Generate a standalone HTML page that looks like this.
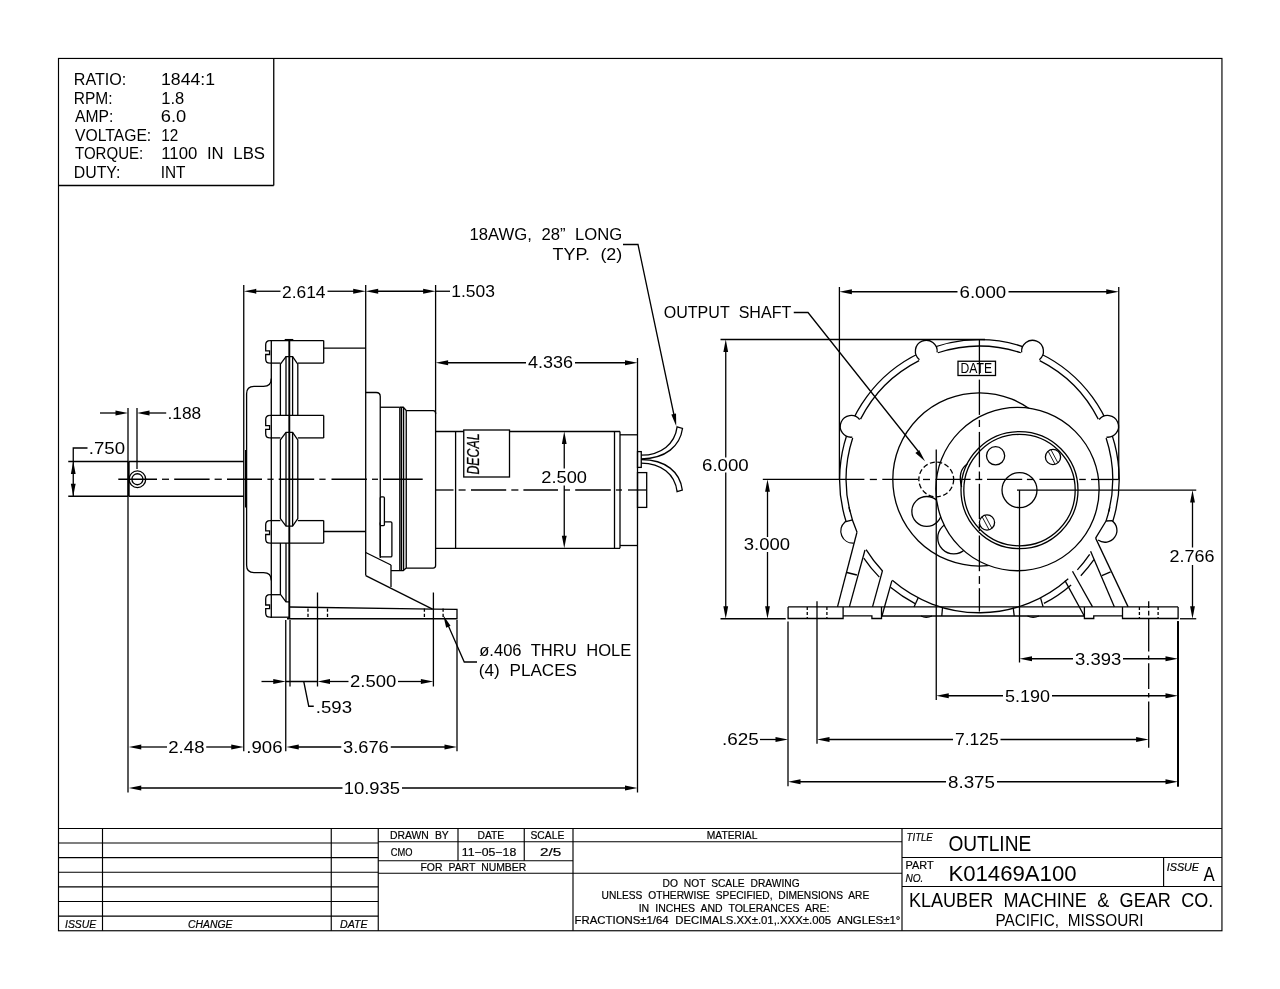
<!DOCTYPE html>
<html><head><meta charset="utf-8"><title>K01469A100 Outline</title>
<style>
html,body{margin:0;padding:0;background:#fff;}
svg{display:block;font-family:"Liberation Sans",sans-serif;will-change:transform;filter:grayscale(1);}
svg text{fill:#000;stroke:none;word-spacing:0.3em;}
svg text.t{stroke:none;}
svg text.b{stroke:#000;stroke-width:0.2px;}
</style></head><body>
<svg width="1280" height="989" viewBox="0 0 1280 989">
<rect x="0" y="0" width="1280" height="989" fill="#fff" style="stroke:none"/>
<g fill="none" stroke="#000" stroke-width="1.3" stroke-linecap="butt">
<rect x="58.5" y="58.45" width="1163.45" height="872.3" fill="none" stroke-width="1.15"/>
<line x1="273.75" y1="58.25" x2="273.75" y2="185.50"/>
<line x1="58.75" y1="185.50" x2="273.75" y2="185.50"/>
<text x="73.75" y="85.00" font-size="16.35" textLength="52.50" lengthAdjust="spacingAndGlyphs" class="t">RATIO:</text>
<text x="73.75" y="103.50" font-size="16.35" textLength="38.75" lengthAdjust="spacingAndGlyphs" class="t">RPM:</text>
<text x="75.00" y="122.00" font-size="16.35" textLength="38.25" lengthAdjust="spacingAndGlyphs" class="t">AMP:</text>
<text x="75.00" y="140.75" font-size="16.35" textLength="76.25" lengthAdjust="spacingAndGlyphs" class="t">VOLTAGE:</text>
<text x="75.00" y="159.25" font-size="16.35" textLength="68.25" lengthAdjust="spacingAndGlyphs" class="t">TORQUE:</text>
<text x="73.75" y="177.75" font-size="16.35" textLength="46.75" lengthAdjust="spacingAndGlyphs" class="t">DUTY:</text>
<text x="161.00" y="85.00" font-size="16.35" textLength="54.00" lengthAdjust="spacingAndGlyphs" class="t">1844:1</text>
<text x="161.25" y="103.50" font-size="16.35" textLength="23.00" lengthAdjust="spacingAndGlyphs" class="t">1.8</text>
<text x="160.75" y="122.00" font-size="16.35" textLength="25.50" lengthAdjust="spacingAndGlyphs" class="t">6.0</text>
<text x="161.25" y="140.75" font-size="16.35" textLength="17.00" lengthAdjust="spacingAndGlyphs" class="t">12</text>
<text x="161.25" y="159.25" font-size="16.35" textLength="103.75" lengthAdjust="spacingAndGlyphs" class="t">1100 IN LBS</text>
<text x="160.75" y="177.75" font-size="16.35" textLength="24.75" lengthAdjust="spacingAndGlyphs" class="t">INT</text>
<g stroke-width="1.15">
<line x1="58.75" y1="828.50" x2="1222.00" y2="828.50"/>
<line x1="58.75" y1="843.00" x2="378.25" y2="843.00"/>
<line x1="58.75" y1="857.60" x2="378.25" y2="857.60"/>
<line x1="58.75" y1="872.20" x2="378.25" y2="872.20"/>
<line x1="58.75" y1="886.90" x2="378.25" y2="886.90"/>
<line x1="58.75" y1="901.50" x2="378.25" y2="901.50"/>
<line x1="58.75" y1="916.10" x2="378.25" y2="916.10"/>
<line x1="102.50" y1="828.50" x2="102.50" y2="930.80"/>
<line x1="331.25" y1="828.50" x2="331.25" y2="930.80"/>
<line x1="378.25" y1="828.50" x2="378.25" y2="930.80"/>
<line x1="573.00" y1="828.50" x2="573.00" y2="930.80"/>
<line x1="902.00" y1="828.50" x2="902.00" y2="930.80"/>
<line x1="458.00" y1="828.50" x2="458.00" y2="860.75"/>
<line x1="524.25" y1="828.50" x2="524.25" y2="860.75"/>
<line x1="378.25" y1="841.75" x2="902.00" y2="841.75"/>
<line x1="378.25" y1="860.75" x2="573.00" y2="860.75"/>
<line x1="378.25" y1="873.25" x2="902.00" y2="873.25"/>
<line x1="902.00" y1="857.50" x2="1222.00" y2="857.50"/>
<line x1="902.00" y1="886.50" x2="1222.00" y2="886.50"/>
<line x1="1163.60" y1="857.50" x2="1163.60" y2="886.50"/>
</g>
<text x="65.00" y="927.50" font-size="11.05" textLength="31.25" lengthAdjust="spacingAndGlyphs" font-style="italic" class="b">ISSUE</text>
<text x="188.00" y="927.50" font-size="11.05" textLength="44.50" lengthAdjust="spacingAndGlyphs" font-style="italic" class="b">CHANGE</text>
<text x="340.00" y="927.50" font-size="11.05" textLength="27.50" lengthAdjust="spacingAndGlyphs" font-style="italic" class="b">DATE</text>
<text x="390.00" y="839.00" font-size="11.19" textLength="58.75" lengthAdjust="spacingAndGlyphs" class="b">DRAWN BY</text>
<text x="477.50" y="839.00" font-size="11.19" textLength="26.75" lengthAdjust="spacingAndGlyphs" class="b">DATE</text>
<text x="530.50" y="839.00" font-size="11.19" textLength="33.75" lengthAdjust="spacingAndGlyphs" class="b">SCALE</text>
<text x="390.75" y="855.50" font-size="10.90" textLength="21.75" lengthAdjust="spacingAndGlyphs" class="b">CMO</text>
<text x="461.75" y="855.50" font-size="10.90" textLength="54.50" lengthAdjust="spacingAndGlyphs" class="b">11−05−18</text>
<text x="540.00" y="855.50" font-size="10.90" textLength="21.25" lengthAdjust="spacingAndGlyphs" class="b">2/5</text>
<text x="420.50" y="870.80" font-size="10.90" textLength="105.75" lengthAdjust="spacingAndGlyphs" class="b">FOR PART NUMBER</text>
<text x="706.80" y="839.00" font-size="11.19" textLength="50.60" lengthAdjust="spacingAndGlyphs" class="b">MATERIAL</text>
<text x="662.60" y="886.50" font-size="11.19" textLength="137.00" lengthAdjust="spacingAndGlyphs" class="b">DO NOT SCALE DRAWING</text>
<text x="601.60" y="899.40" font-size="11.19" textLength="267.70" lengthAdjust="spacingAndGlyphs" class="b">UNLESS OTHERWISE SPECIFIED, DIMENSIONS ARE</text>
<text x="638.70" y="911.90" font-size="11.19" textLength="190.70" lengthAdjust="spacingAndGlyphs" class="b">IN INCHES AND TOLERANCES ARE:</text>
<text x="574.60" y="924.00" font-size="11.19" textLength="325.70" lengthAdjust="spacingAndGlyphs" class="b">FRACTIONS±1/64 DECIMALS.XX±.01,.XXX±.005 ANGLES±1°</text>
<text x="906.60" y="840.80" font-size="11.19" textLength="26.20" lengthAdjust="spacingAndGlyphs" font-style="italic" class="b">TITLE</text>
<text x="948.40" y="851.00" font-size="21.37" textLength="82.85" lengthAdjust="spacingAndGlyphs" class="t">OUTLINE</text>
<text x="905.50" y="869.40" font-size="11.19" textLength="28.10" lengthAdjust="spacingAndGlyphs" class="b">PART</text>
<text x="905.50" y="881.50" font-size="11.19" textLength="17.90" lengthAdjust="spacingAndGlyphs" font-style="italic" class="b">NO.</text>
<text x="948.40" y="881.00" font-size="21.37" textLength="128.20" lengthAdjust="spacingAndGlyphs" class="t">K01469A100</text>
<text x="1166.80" y="871.00" font-size="11.19" textLength="32.20" lengthAdjust="spacingAndGlyphs" font-style="italic" class="b">ISSUE</text>
<text x="1203.50" y="880.70" font-size="20.93" textLength="11.20" lengthAdjust="spacingAndGlyphs" class="t">A</text>
<text x="909.00" y="906.60" font-size="20.78" textLength="304.20" lengthAdjust="spacingAndGlyphs" class="t">KLAUBER MACHINE &amp; GEAR CO.</text>
<text x="995.40" y="925.90" font-size="16.13" textLength="148.20" lengthAdjust="spacingAndGlyphs" class="t">PACIFIC, MISSOURI</text>
<line x1="128.00" y1="408.00" x2="128.00" y2="792.50"/>
<line x1="137.00" y1="408.00" x2="137.00" y2="469.00"/>
<line x1="243.75" y1="285.00" x2="243.75" y2="751.25"/>
<line x1="365.70" y1="285.00" x2="365.70" y2="575.60"/>
<line x1="435.60" y1="285.00" x2="435.60" y2="414.00"/>
<line x1="637.50" y1="358.00" x2="637.50" y2="792.50"/>
<line x1="100.00" y1="413.00" x2="116.00" y2="413.00"/>
<polygon points="128.00,413.00 115.50,415.40 115.50,410.60" fill="#000" stroke="none"/>
<polygon points="137.00,413.00 149.50,410.60 149.50,415.40" fill="#000" stroke="none"/>
<line x1="149.00" y1="413.00" x2="166.20" y2="413.00"/>
<text x="167.50" y="419.00" font-size="16.35" textLength="33.75" lengthAdjust="spacingAndGlyphs" class="t">.188</text>
<text x="88.75" y="453.75" font-size="16.35" textLength="36.25" lengthAdjust="spacingAndGlyphs" class="t">.750</text>
<path d="M87.5,448 L73.25,448 L73.25,496.25" fill="none"/>
<line x1="68.25" y1="461.50" x2="128.00" y2="461.50"/>
<line x1="68.25" y1="496.25" x2="128.00" y2="496.25"/>
<polygon points="73.25,461.50 75.65,474.00 70.85,474.00" fill="#000" stroke="none"/>
<polygon points="73.25,496.25 70.85,483.75 75.65,483.75" fill="#000" stroke="none"/>
<line x1="128.75" y1="461.50" x2="243.75" y2="461.50"/>
<line x1="128.75" y1="496.25" x2="243.75" y2="496.25"/>
<line x1="128.60" y1="461.50" x2="128.60" y2="496.25" stroke-width="2.2"/>
<circle cx="137.40" cy="479.25" r="8.30" fill="none"/>
<circle cx="137.40" cy="479.25" r="5.50" fill="none"/>
<line x1="118.30" y1="479.25" x2="157.00" y2="479.25"/>
<line x1="162.00" y1="479.25" x2="169.00" y2="479.25"/>
<line x1="174.20" y1="479.25" x2="209.60" y2="479.25"/>
<line x1="214.60" y1="479.25" x2="221.80" y2="479.25"/>
<line x1="227.00" y1="479.25" x2="262.00" y2="479.25"/>
<line x1="267.40" y1="479.25" x2="273.60" y2="479.25"/>
<line x1="278.70" y1="479.25" x2="314.20" y2="479.25"/>
<line x1="319.30" y1="479.25" x2="325.60" y2="479.25"/>
<line x1="331.50" y1="479.25" x2="366.90" y2="479.25"/>
<line x1="372.00" y1="479.25" x2="378.00" y2="479.25"/>
<line x1="383.00" y1="479.25" x2="422.70" y2="479.25"/>
<polygon points="243.75,291.25 256.25,288.85 256.25,293.65" fill="#000" stroke="none"/>
<line x1="255.00" y1="291.25" x2="280.50" y2="291.25"/>
<text x="282.00" y="297.50" font-size="17.01" textLength="43.50" lengthAdjust="spacingAndGlyphs" class="t">2.614</text>
<line x1="327.50" y1="291.25" x2="354.00" y2="291.25"/>
<polygon points="365.70,291.25 353.20,293.65 353.20,288.85" fill="#000" stroke="none"/>
<polygon points="365.70,291.25 378.20,288.85 378.20,293.65" fill="#000" stroke="none"/>
<line x1="377.00" y1="291.25" x2="424.00" y2="291.25"/>
<polygon points="435.60,291.25 423.10,293.65 423.10,288.85" fill="#000" stroke="none"/>
<line x1="435.60" y1="291.25" x2="450.00" y2="291.25"/>
<text x="451.25" y="297.00" font-size="16.35" textLength="43.75" lengthAdjust="spacingAndGlyphs" class="t">1.503</text>
<polygon points="435.60,362.75 448.10,360.35 448.10,365.15" fill="#000" stroke="none"/>
<line x1="447.00" y1="362.75" x2="526.00" y2="362.75"/>
<text x="528.00" y="368.30" font-size="16.35" textLength="45.00" lengthAdjust="spacingAndGlyphs" class="t">4.336</text>
<line x1="575.00" y1="362.75" x2="626.00" y2="362.75"/>
<polygon points="637.50,362.75 625.00,365.15 625.00,360.35" fill="#000" stroke="none"/>
<path d="M271.3,378.5 Q271.3,386.3 263.5,386.3 L254,386.3 Q246.6,386.3 246.6,393.7 L246.6,565.2 Q246.6,572.6 254,572.6 L263.5,572.6 Q271.3,572.6 271.3,580.4" fill="none"/>
<line x1="271.30" y1="340.60" x2="271.30" y2="617.90"/>
<line x1="245.60" y1="450.00" x2="245.60" y2="507.50"/>
<path d="M269.9,340.6 Q265.7,340.6 265.7,344.8 L265.7,350.90000000000003 L269.6,350.90000000000003 L269.6,354.5 L265.7,354.5 L265.7,358.90000000000003 Q265.7,363.1 269.9,363.1" fill="none"/>
<line x1="269.90" y1="340.60" x2="323.70" y2="340.60"/>
<line x1="269.90" y1="363.10" x2="280.40" y2="363.10"/>
<line x1="297.80" y1="363.10" x2="323.70" y2="363.10"/>
<line x1="323.70" y1="340.60" x2="323.70" y2="363.10"/>
<path d="M269.9,415.4 Q265.7,415.4 265.7,419.59999999999997 L265.7,425.7 L269.6,425.7 L269.6,429.29999999999995 L265.7,429.29999999999995 L265.7,433.7 Q265.7,437.9 269.9,437.9" fill="none"/>
<line x1="269.90" y1="415.40" x2="323.70" y2="415.40"/>
<line x1="269.90" y1="437.90" x2="280.40" y2="437.90"/>
<line x1="297.80" y1="437.90" x2="323.70" y2="437.90"/>
<line x1="323.70" y1="415.40" x2="323.70" y2="437.90"/>
<path d="M269.9,520.6 Q265.7,520.6 265.7,524.8000000000001 L265.7,530.9 L269.6,530.9 L269.6,534.5 L265.7,534.5 L265.7,538.9 Q265.7,543.1 269.9,543.1" fill="none"/>
<line x1="269.90" y1="520.60" x2="280.40" y2="520.60"/>
<line x1="297.80" y1="520.60" x2="323.70" y2="520.60"/>
<line x1="269.90" y1="543.10" x2="323.70" y2="543.10"/>
<line x1="323.70" y1="520.60" x2="323.70" y2="543.10"/>
<path d="M269.9,594.7 Q265.7,594.7 265.7,598.9000000000001 L265.7,605.0 L269.6,605.0 L269.6,608.6 L265.7,608.6 L265.7,613.0 Q265.7,617.2 269.9,617.2" fill="none"/>
<line x1="269.90" y1="594.70" x2="280.40" y2="594.70"/>
<line x1="269.90" y1="617.20" x2="289.20" y2="617.20"/>
<line x1="289.30" y1="339.60" x2="289.30" y2="618.70" stroke-width="1.9"/>
<line x1="284.70" y1="339.60" x2="293.30" y2="339.60"/>
<path d="M280.4,415.4 L280.4,364.1 L286.0,356.6 L292.6,356.6 L297.8,364.1 L297.8,415.4" fill="none"/>
<line x1="286.00" y1="356.60" x2="286.00" y2="415.40"/>
<line x1="292.60" y1="356.60" x2="292.60" y2="415.40"/>
<path d="M280.4,439.9 L286.0,432.4 L292.6,432.4 L297.8,439.9 L297.8,518.6 L292.6,526.1 L286.0,526.1 L280.4,518.6 Z" fill="none"/>
<line x1="286.00" y1="432.40" x2="286.00" y2="526.10"/>
<line x1="292.60" y1="432.40" x2="292.60" y2="526.10"/>
<path d="M280.4,543.1 L280.4,594.4 L286.0,601.9 L289.2,601.9" fill="none"/>
<line x1="286.00" y1="543.10" x2="286.00" y2="601.90"/>
<line x1="323.70" y1="348.20" x2="365.70" y2="348.20"/>
<line x1="323.70" y1="531.50" x2="365.70" y2="531.50"/>
<path d="M365.7,392.5 L376.2,392.5 Q380.25,392.5 380.25,396.5 L380.25,558" fill="none"/>
<line x1="380.25" y1="407.25" x2="399.75" y2="407.25"/>
<line x1="399.90" y1="407.25" x2="399.90" y2="570.60" stroke-width="1.5"/>
<line x1="401.60" y1="407.25" x2="401.60" y2="570.60" stroke-width="1.2"/>
<path d="M399.9,407.25 L403.3,407.25 L406.25,410.6 L406.25,568 L403.3,570.6 L391,570.6" fill="none"/>
<line x1="403.60" y1="408.00" x2="403.60" y2="570.00"/>
<path d="M406.25,410.6 L433.1,410.6 Q435.6,410.6 435.6,413.1 L435.6,565.6 Q435.6,568.1 433.1,568.1 L406.25,568.1" fill="none"/>
<line x1="435.60" y1="431.50" x2="620.00" y2="431.50"/>
<line x1="435.60" y1="548.30" x2="620.00" y2="548.30"/>
<line x1="455.60" y1="431.50" x2="455.60" y2="548.30"/>
<line x1="614.50" y1="431.50" x2="614.50" y2="548.30"/>
<line x1="620.00" y1="431.50" x2="620.00" y2="548.30"/>
<line x1="620.00" y1="434.80" x2="637.50" y2="434.80"/>
<line x1="620.00" y1="545.50" x2="637.50" y2="545.50"/>
<rect x="463.75" y="430.00" width="45.75" height="47.00" fill="#fff" rx="0"/>
<text transform="translate(478.9,474.6) rotate(-90)" font-size="16.4" font-style="italic" style="stroke:#000;stroke-width:0.3px" textLength="41.2" lengthAdjust="spacingAndGlyphs">DECAL</text>
<polygon points="564.25,431.50 566.65,444.00 561.85,444.00" fill="#000" stroke="none"/>
<polygon points="564.25,548.30 561.85,535.80 566.65,535.80" fill="#000" stroke="none"/>
<line x1="564.25" y1="443.00" x2="564.25" y2="468.50"/>
<line x1="564.25" y1="485.50" x2="564.25" y2="537.00"/>
<text x="541.25" y="482.50" font-size="16.35" textLength="45.75" lengthAdjust="spacingAndGlyphs" class="t">2.500</text>
<line x1="435.60" y1="490.00" x2="453.50" y2="490.00"/>
<line x1="458.60" y1="490.00" x2="465.60" y2="490.00"/>
<line x1="471.00" y1="490.00" x2="506.20" y2="490.00"/>
<line x1="511.30" y1="490.00" x2="518.40" y2="490.00"/>
<line x1="523.40" y1="490.00" x2="558.00" y2="490.00"/>
<line x1="564.00" y1="490.00" x2="570.00" y2="490.00"/>
<line x1="575.20" y1="490.00" x2="610.80" y2="490.00"/>
<line x1="615.90" y1="490.00" x2="622.00" y2="490.00"/>
<line x1="628.00" y1="490.00" x2="646.50" y2="490.00"/>
<rect x="637.50" y="451.60" width="3.75" height="15.80" fill="none" rx="0"/>
<rect x="637.50" y="472.60" width="9.20" height="34.80" fill="none" rx="0"/>
<path d="M641.25,455.2 C661,455 675,444 677.1,426.9 L682.5,428.5 C680,446 666,458.5 641.25,458.9" fill="none"/>
<path d="M641.25,463.1 C661,463.3 675,474 677.1,491.6 L682.3,490 C680,472 666,459.8 641.25,459.5" fill="none"/>
<rect x="380.25" y="521.90" width="11.65" height="35.00" fill="none" rx="1.2"/>
<rect x="380.25" y="496.90" width="4.15" height="28.70" fill="#fff" rx="1.2"/>
<line x1="365.70" y1="552.50" x2="391.00" y2="565.00"/>
<line x1="391.00" y1="565.00" x2="391.00" y2="586.90"/>
<line x1="365.70" y1="575.60" x2="432.50" y2="609.10"/>
<path d="M289.2,607.0 L433.1,609.1 L457,609.4 L457,618.75 L287,618.75" fill="none"/>
<line x1="308.00" y1="608.50" x2="308.00" y2="618.00" stroke-dasharray="3.2 2"/>
<line x1="327.50" y1="608.50" x2="327.50" y2="618.00" stroke-dasharray="3.2 2"/>
<line x1="424.40" y1="608.50" x2="424.40" y2="618.00" stroke-dasharray="3.2 2"/>
<line x1="443.10" y1="608.50" x2="443.10" y2="618.00" stroke-dasharray="3.2 2"/>
<line x1="317.50" y1="592.50" x2="317.50" y2="686.50"/>
<line x1="433.40" y1="592.50" x2="433.40" y2="686.50"/>
<line x1="285.75" y1="620.00" x2="285.75" y2="751.25"/>
<line x1="290.00" y1="620.00" x2="290.00" y2="686.50"/>
<line x1="457.00" y1="620.00" x2="457.00" y2="751.25"/>
<line x1="261.50" y1="681.50" x2="274.00" y2="681.50"/>
<polygon points="285.75,681.50 273.25,683.90 273.25,679.10" fill="#000" stroke="none"/>
<line x1="285.75" y1="681.50" x2="317.50" y2="681.50"/>
<polygon points="317.50,681.50 330.00,679.10 330.00,683.90" fill="#000" stroke="none"/>
<line x1="329.00" y1="681.50" x2="348.50" y2="681.50"/>
<text x="350.00" y="687.20" font-size="16.35" textLength="46.25" lengthAdjust="spacingAndGlyphs" class="t">2.500</text>
<line x1="398.00" y1="681.50" x2="422.00" y2="681.50"/>
<polygon points="433.40,681.50 420.90,683.90 420.90,679.10" fill="#000" stroke="none"/>
<path d="M303.75,681.5 L308.75,706.25 L313.75,706.25" fill="none"/>
<text x="315.75" y="712.50" font-size="16.35" textLength="36.25" lengthAdjust="spacingAndGlyphs" class="t">.593</text>
<polygon points="128.75,747.00 141.25,744.60 141.25,749.40" fill="#000" stroke="none"/>
<line x1="140.00" y1="747.00" x2="167.00" y2="747.00"/>
<text x="168.25" y="752.80" font-size="16.35" textLength="36.25" lengthAdjust="spacingAndGlyphs" class="t">2.48</text>
<line x1="206.25" y1="747.00" x2="232.00" y2="747.00"/>
<polygon points="243.75,747.00 231.25,749.40 231.25,744.60" fill="#000" stroke="none"/>
<text x="246.25" y="752.80" font-size="16.35" textLength="36.25" lengthAdjust="spacingAndGlyphs" class="t">.906</text>
<polygon points="286.25,747.00 298.75,744.60 298.75,749.40" fill="#000" stroke="none"/>
<line x1="297.00" y1="747.00" x2="341.25" y2="747.00"/>
<text x="343.00" y="752.80" font-size="16.35" textLength="45.75" lengthAdjust="spacingAndGlyphs" class="t">3.676</text>
<line x1="390.75" y1="747.00" x2="445.00" y2="747.00"/>
<polygon points="457.00,747.00 444.50,749.40 444.50,744.60" fill="#000" stroke="none"/>
<polygon points="128.75,788.00 141.25,785.60 141.25,790.40" fill="#000" stroke="none"/>
<line x1="140.00" y1="788.00" x2="342.50" y2="788.00"/>
<text x="343.75" y="793.80" font-size="16.35" textLength="56.25" lengthAdjust="spacingAndGlyphs" class="t">10.935</text>
<line x1="402.00" y1="788.00" x2="626.00" y2="788.00"/>
<polygon points="637.50,788.00 625.00,790.40 625.00,785.60" fill="#000" stroke="none"/>
<polygon points="443.30,615.30 450.54,625.77 446.15,627.71" fill="#000" stroke="none"/>
<path d="M448,625 L464.25,662 L477,662" fill="none"/>
<text x="479.25" y="655.50" font-size="16.35" textLength="152.00" lengthAdjust="spacingAndGlyphs" class="t">ø.406 THRU HOLE</text>
<text x="478.75" y="675.50" font-size="16.35" textLength="98.25" lengthAdjust="spacingAndGlyphs" class="t">(4) PLACES</text>
<text x="469.50" y="239.50" font-size="16.35" textLength="152.80" lengthAdjust="spacingAndGlyphs" class="t">18AWG, 28” LONG</text>
<text x="552.50" y="260.00" font-size="16.35" textLength="69.80" lengthAdjust="spacingAndGlyphs" class="t">TYP. (2)</text>
<path d="M623,244.5 L638,244.5 L674,415" fill="none"/>
<polygon points="676.25,426.25 671.33,414.51 676.02,413.52" fill="#000" stroke="none"/>
<text x="663.75" y="318.00" font-size="16.35" textLength="127.50" lengthAdjust="spacingAndGlyphs" class="t">OUTPUT SHAFT</text>
<path d="M793.75,312.5 L808,312.5 L918,451" fill="none"/>
<polygon points="925.00,461.25 915.39,452.91 919.16,449.94" fill="#000" stroke="none"/>
<line x1="839.40" y1="287.00" x2="839.40" y2="479.25"/>
<line x1="1118.75" y1="287.00" x2="1118.75" y2="479.25"/>
<polygon points="839.40,291.75 851.90,289.35 851.90,294.15" fill="#000" stroke="none"/>
<line x1="851.00" y1="291.75" x2="957.50" y2="291.75"/>
<text x="959.50" y="297.50" font-size="16.35" textLength="46.75" lengthAdjust="spacingAndGlyphs" class="t">6.000</text>
<line x1="1008.50" y1="291.75" x2="1107.00" y2="291.75"/>
<polygon points="1118.75,291.75 1106.25,294.15 1106.25,289.35" fill="#000" stroke="none"/>
<line x1="720.50" y1="339.50" x2="985.00" y2="339.50"/>
<line x1="720.50" y1="618.75" x2="785.75" y2="618.75"/>
<polygon points="725.75,339.50 728.15,352.00 723.35,352.00" fill="#000" stroke="none"/>
<polygon points="725.75,618.75 723.35,606.25 728.15,606.25" fill="#000" stroke="none"/>
<line x1="725.75" y1="351.00" x2="725.75" y2="457.50"/>
<line x1="725.75" y1="472.50" x2="725.75" y2="607.00"/>
<text x="702.00" y="470.75" font-size="16.35" textLength="46.75" lengthAdjust="spacingAndGlyphs" class="t">6.000</text>
<polygon points="767.50,479.25 769.90,491.75 765.10,491.75" fill="#000" stroke="none"/>
<polygon points="767.50,618.75 765.10,606.25 769.90,606.25" fill="#000" stroke="none"/>
<line x1="767.50" y1="491.00" x2="767.50" y2="537.00"/>
<line x1="767.50" y1="552.00" x2="767.50" y2="607.00"/>
<text x="743.75" y="550.00" font-size="16.35" textLength="46.25" lengthAdjust="spacingAndGlyphs" class="t">3.000</text>
<path d="M1112.51,522.19 A139.80,139.80 0 1 0 846.14,521.72" fill="none"/>
<path d="M1108.74,511.70 A133.30,133.30 0 0 0 1106.10,438.04" fill="none"/>
<path d="M1098.28,419.14 A133.30,133.30 0 0 0 1039.71,360.57" fill="none"/>
<path d="M1020.81,352.75 A133.30,133.30 0 0 0 937.99,352.75" fill="none"/>
<path d="M919.09,360.57 A133.30,133.30 0 0 0 860.52,419.14" fill="none"/>
<path d="M852.70,438.04 A133.30,133.30 0 0 0 850.06,511.70" fill="none"/>
<path d="M866.11,549.69 A133.30,133.30 0 0 0 882.55,571.04" fill="none"/>
<path d="M863.77,558.03 A139.80,139.80 0 0 0 879.35,577.09" fill="none"/>
<path d="M892.30,580.36 A133.30,133.30 0 0 0 1068.25,578.82" fill="none"/>
<path d="M890.48,587.32 A139.80,139.80 0 0 0 915.06,603.57" fill="none"/>
<path d="M1043.95,603.45 A139.80,139.80 0 0 0 1071.12,584.96" fill="none"/>
<path d="M1077.36,569.85 A133.30,133.30 0 0 0 1089.65,554.38" fill="none"/>
<path d="M1080.81,575.68 A139.80,139.80 0 0 0 1093.92,559.64" fill="none"/>
<line x1="918.10" y1="598.10" x2="914.00" y2="606.90"/>
<line x1="1040.60" y1="598.10" x2="1043.10" y2="606.90"/>
<path d="M1099.13,419.51 A10.90,10.90 0 1 1 1106.45,437.17" fill="#fff"/>
<path d="M1021.68,352.40 A10.90,10.90 0 1 1 1039.34,359.72" fill="#fff"/>
<path d="M919.46,359.72 A10.90,10.90 0 1 1 937.12,352.40" fill="#fff"/>
<path d="M852.35,437.17 A10.90,10.90 0 1 1 859.67,419.51" fill="#fff"/>
<path d="M852.6,519.8 L845,521.9 A12.1,12.1 0 0 0 853.75,543.1 L856.9,532.5 Z" fill="#fff" stroke="none"/>
<path d="M852.6,519.8 L845,521.9 A12.1,12.1 0 0 0 853.75,543.1" fill="none"/>
<path d="M849.01,507.16 A133.30,133.30 0 0 0 857.16,532.60" fill="none"/>
<path d="M1106.2,521 L1111.9,520.6 A11.9,11.9 0 1 1 1098.1,540 L1095.6,538.1 Z" fill="#fff" stroke="none"/>
<path d="M1106.2,521 L1111.9,520.6 A11.9,11.9 0 1 1 1098.1,540" fill="none"/>
<path d="M1109.79,507.16 A133.30,133.30 0 0 1 1106.03,521.08 L1095.6,538.1" fill="none"/>
<circle cx="979.40" cy="479.45" r="86.60" fill="none"/>
<circle cx="926.75" cy="511.40" r="14.90" fill="none"/>
<circle cx="953.75" cy="537.90" r="16.00" fill="none"/>
<circle cx="1017.50" cy="489.10" r="81.65" fill="#fff"/>
<circle cx="1019.50" cy="490.10" r="58.50" fill="none"/>
<circle cx="1019.50" cy="490.10" r="55.70" fill="none"/>
<circle cx="1019.50" cy="490.10" r="17.50" fill="none"/>
<circle cx="995.60" cy="455.80" r="9.10" fill="none"/>
<circle cx="1053.00" cy="457.00" r="7.60" fill="none"/>
<line x1="1050.92" y1="449.69" x2="1057.90" y2="462.81" stroke-width="0.9"/>
<line x1="1048.10" y1="451.19" x2="1055.08" y2="464.31" stroke-width="0.9"/>
<circle cx="987.00" cy="522.50" r="7.60" fill="none"/>
<line x1="984.92" y1="515.19" x2="991.90" y2="528.31" stroke-width="0.9"/>
<line x1="982.10" y1="516.69" x2="989.08" y2="529.81" stroke-width="0.9"/>
<path d="M967.5,463.75 Q957.2,470.6 961.6,487" fill="none"/>
<circle cx="936.25" cy="479.45" r="17.40" fill="none" stroke-dasharray="5 2.5"/>
<rect x="958.00" y="361.25" width="37.50" height="14.25" fill="#fff" rx="0"/>
<text x="960.50" y="373.20" font-size="14.24" textLength="31.50" lengthAdjust="spacingAndGlyphs" class="t">DATE</text>
<line x1="762.80" y1="479.45" x2="864.40" y2="479.45"/>
<line x1="869.80" y1="479.45" x2="876.90" y2="479.45"/>
<line x1="882.30" y1="479.45" x2="918.30" y2="479.45"/>
<line x1="923.00" y1="479.45" x2="930.00" y2="479.45"/>
<line x1="935.50" y1="479.45" x2="970.60" y2="479.45"/>
<line x1="975.30" y1="479.45" x2="982.30" y2="479.45"/>
<line x1="987.00" y1="479.45" x2="1022.20" y2="479.45"/>
<line x1="1026.90" y1="479.45" x2="1033.50" y2="479.45"/>
<line x1="1039.40" y1="479.45" x2="1074.50" y2="479.45"/>
<line x1="1079.20" y1="479.45" x2="1085.80" y2="479.45"/>
<line x1="1091.00" y1="479.45" x2="1118.90" y2="479.45"/>
<line x1="979.40" y1="339.20" x2="979.40" y2="374.60"/>
<line x1="979.40" y1="379.60" x2="979.40" y2="414.90"/>
<line x1="979.40" y1="419.90" x2="979.40" y2="427.00"/>
<line x1="979.40" y1="431.90" x2="979.40" y2="467.20"/>
<line x1="979.40" y1="471.50" x2="979.40" y2="479.50"/>
<line x1="979.40" y1="483.80" x2="979.40" y2="519.00"/>
<line x1="979.40" y1="524.00" x2="979.40" y2="531.00"/>
<line x1="979.40" y1="535.50" x2="979.40" y2="571.20"/>
<line x1="979.40" y1="576.10" x2="979.40" y2="583.90"/>
<line x1="979.40" y1="588.20" x2="979.40" y2="611.60"/>
<line x1="856.90" y1="532.50" x2="837.50" y2="606.90"/>
<line x1="865.00" y1="550.00" x2="849.40" y2="606.90"/>
<line x1="882.50" y1="570.60" x2="872.50" y2="606.90"/>
<line x1="891.90" y1="580.60" x2="881.90" y2="616.25"/>
<line x1="1095.60" y1="538.10" x2="1128.10" y2="606.90"/>
<line x1="1090.60" y1="551.25" x2="1114.40" y2="606.90"/>
<line x1="1072.50" y1="571.25" x2="1092.50" y2="606.90"/>
<line x1="1065.00" y1="580.60" x2="1084.40" y2="616.25"/>
<line x1="846.90" y1="572.50" x2="856.90" y2="575.00"/>
<line x1="1101.90" y1="575.60" x2="1110.60" y2="571.90"/>
<line x1="788.10" y1="606.90" x2="1178.10" y2="606.90"/>
<path d="M788.1,606.9 L788.1,618.5 L843.1,618.5 L843.1,606.9" fill="none"/>
<path d="M843.1,615.8 L871.9,615.8 L871.9,618.5 L881.5,618.5 L881.5,606.9" fill="none"/>
<line x1="881.50" y1="616.00" x2="1084.40" y2="616.00"/>
<path d="M1084.4,606.9 L1084.4,618.5 L1093.75,618.5 L1093.75,615.8 L1122.5,615.8" fill="none"/>
<path d="M1122.5,606.9 L1122.5,618.5 L1178.1,618.5 L1178.1,606.9" fill="none"/>
<line x1="807.25" y1="606.90" x2="807.25" y2="618.50" stroke-dasharray="3 2"/>
<line x1="826.90" y1="606.90" x2="826.90" y2="618.50" stroke-dasharray="3 2"/>
<line x1="1139.40" y1="606.90" x2="1139.40" y2="618.50" stroke-dasharray="3 2"/>
<line x1="1158.10" y1="606.90" x2="1158.10" y2="618.50" stroke-dasharray="3 2"/>
<line x1="942.50" y1="607.50" x2="941.80" y2="616.00"/>
<line x1="1013.20" y1="607.50" x2="1014.20" y2="616.00"/>
<path d="M921,616 Q926,618.6 932,616" fill="none"/>
<path d="M1027.5,616 Q1033,618.6 1039,616" fill="none"/>
<line x1="788.00" y1="621.50" x2="788.00" y2="786.25"/>
<line x1="817.00" y1="601.25" x2="817.00" y2="743.75"/>
<line x1="936.25" y1="449.40" x2="936.25" y2="700.00"/>
<line x1="1019.50" y1="490.10" x2="1019.50" y2="662.50"/>
<line x1="1148.70" y1="601.30" x2="1148.70" y2="608.00"/>
<line x1="1178.00" y1="621.50" x2="1178.00" y2="786.25"/>
<line x1="1148.70" y1="610.70" x2="1148.70" y2="615.40"/>
<line x1="1178.00" y1="621.50" x2="1178.00" y2="786.25"/>
<line x1="1148.70" y1="618.50" x2="1148.70" y2="651.40"/>
<line x1="1178.00" y1="621.50" x2="1178.00" y2="786.25"/>
<line x1="1148.70" y1="655.50" x2="1148.70" y2="659.50"/>
<line x1="1178.00" y1="621.50" x2="1178.00" y2="786.25"/>
<line x1="1148.70" y1="663.20" x2="1148.70" y2="689.00"/>
<line x1="1178.00" y1="621.50" x2="1178.00" y2="786.25"/>
<line x1="1148.70" y1="693.00" x2="1148.70" y2="697.50"/>
<line x1="1178.00" y1="621.50" x2="1178.00" y2="786.25"/>
<line x1="1148.70" y1="701.60" x2="1148.70" y2="747.80"/>
<line x1="1178.00" y1="621.50" x2="1178.00" y2="786.25"/>
<line x1="1017.00" y1="490.10" x2="1196.25" y2="490.10"/>
<line x1="1180.00" y1="618.75" x2="1196.25" y2="618.75"/>
<polygon points="1192.50,490.10 1194.90,502.60 1190.10,502.60" fill="#000" stroke="none"/>
<polygon points="1192.50,618.75 1190.10,606.25 1194.90,606.25" fill="#000" stroke="none"/>
<line x1="1192.50" y1="501.00" x2="1192.50" y2="547.50"/>
<line x1="1192.50" y1="565.00" x2="1192.50" y2="607.00"/>
<text x="1169.50" y="562.00" font-size="16.35" textLength="45.00" lengthAdjust="spacingAndGlyphs" class="t">2.766</text>
<polygon points="1019.50,658.75 1032.00,656.35 1032.00,661.15" fill="#000" stroke="none"/>
<line x1="1031.00" y1="658.75" x2="1073.00" y2="658.75"/>
<text x="1075.00" y="664.50" font-size="16.35" textLength="46.25" lengthAdjust="spacingAndGlyphs" class="t">3.393</text>
<line x1="1123.00" y1="658.75" x2="1166.00" y2="658.75"/>
<polygon points="1178.00,658.75 1165.50,661.15 1165.50,656.35" fill="#000" stroke="none"/>
<polygon points="936.25,695.75 948.75,693.35 948.75,698.15" fill="#000" stroke="none"/>
<line x1="948.00" y1="695.75" x2="1003.00" y2="695.75"/>
<text x="1005.00" y="701.50" font-size="16.35" textLength="45.00" lengthAdjust="spacingAndGlyphs" class="t">5.190</text>
<line x1="1052.00" y1="695.75" x2="1166.00" y2="695.75"/>
<polygon points="1178.00,695.75 1165.50,698.15 1165.50,693.35" fill="#000" stroke="none"/>
<polygon points="817.00,739.50 829.50,737.10 829.50,741.90" fill="#000" stroke="none"/>
<line x1="828.00" y1="739.50" x2="953.00" y2="739.50"/>
<text x="955.00" y="745.30" font-size="16.35" textLength="43.75" lengthAdjust="spacingAndGlyphs" class="t">7.125</text>
<line x1="1000.50" y1="739.50" x2="1137.00" y2="739.50"/>
<polygon points="1148.60,739.50 1136.10,741.90 1136.10,737.10" fill="#000" stroke="none"/>
<text x="722.00" y="745.30" font-size="16.35" textLength="36.75" lengthAdjust="spacingAndGlyphs" class="t">.625</text>
<line x1="760.00" y1="739.50" x2="776.00" y2="739.50"/>
<polygon points="788.00,739.50 775.50,741.90 775.50,737.10" fill="#000" stroke="none"/>
<polygon points="788.00,781.75 800.50,779.35 800.50,784.15" fill="#000" stroke="none"/>
<line x1="799.00" y1="781.75" x2="946.00" y2="781.75"/>
<text x="948.00" y="787.50" font-size="16.35" textLength="47.00" lengthAdjust="spacingAndGlyphs" class="t">8.375</text>
<line x1="997.00" y1="781.75" x2="1166.00" y2="781.75"/>
<polygon points="1178.00,781.75 1165.50,784.15 1165.50,779.35" fill="#000" stroke="none"/>
</g>
</svg>
</body></html>
